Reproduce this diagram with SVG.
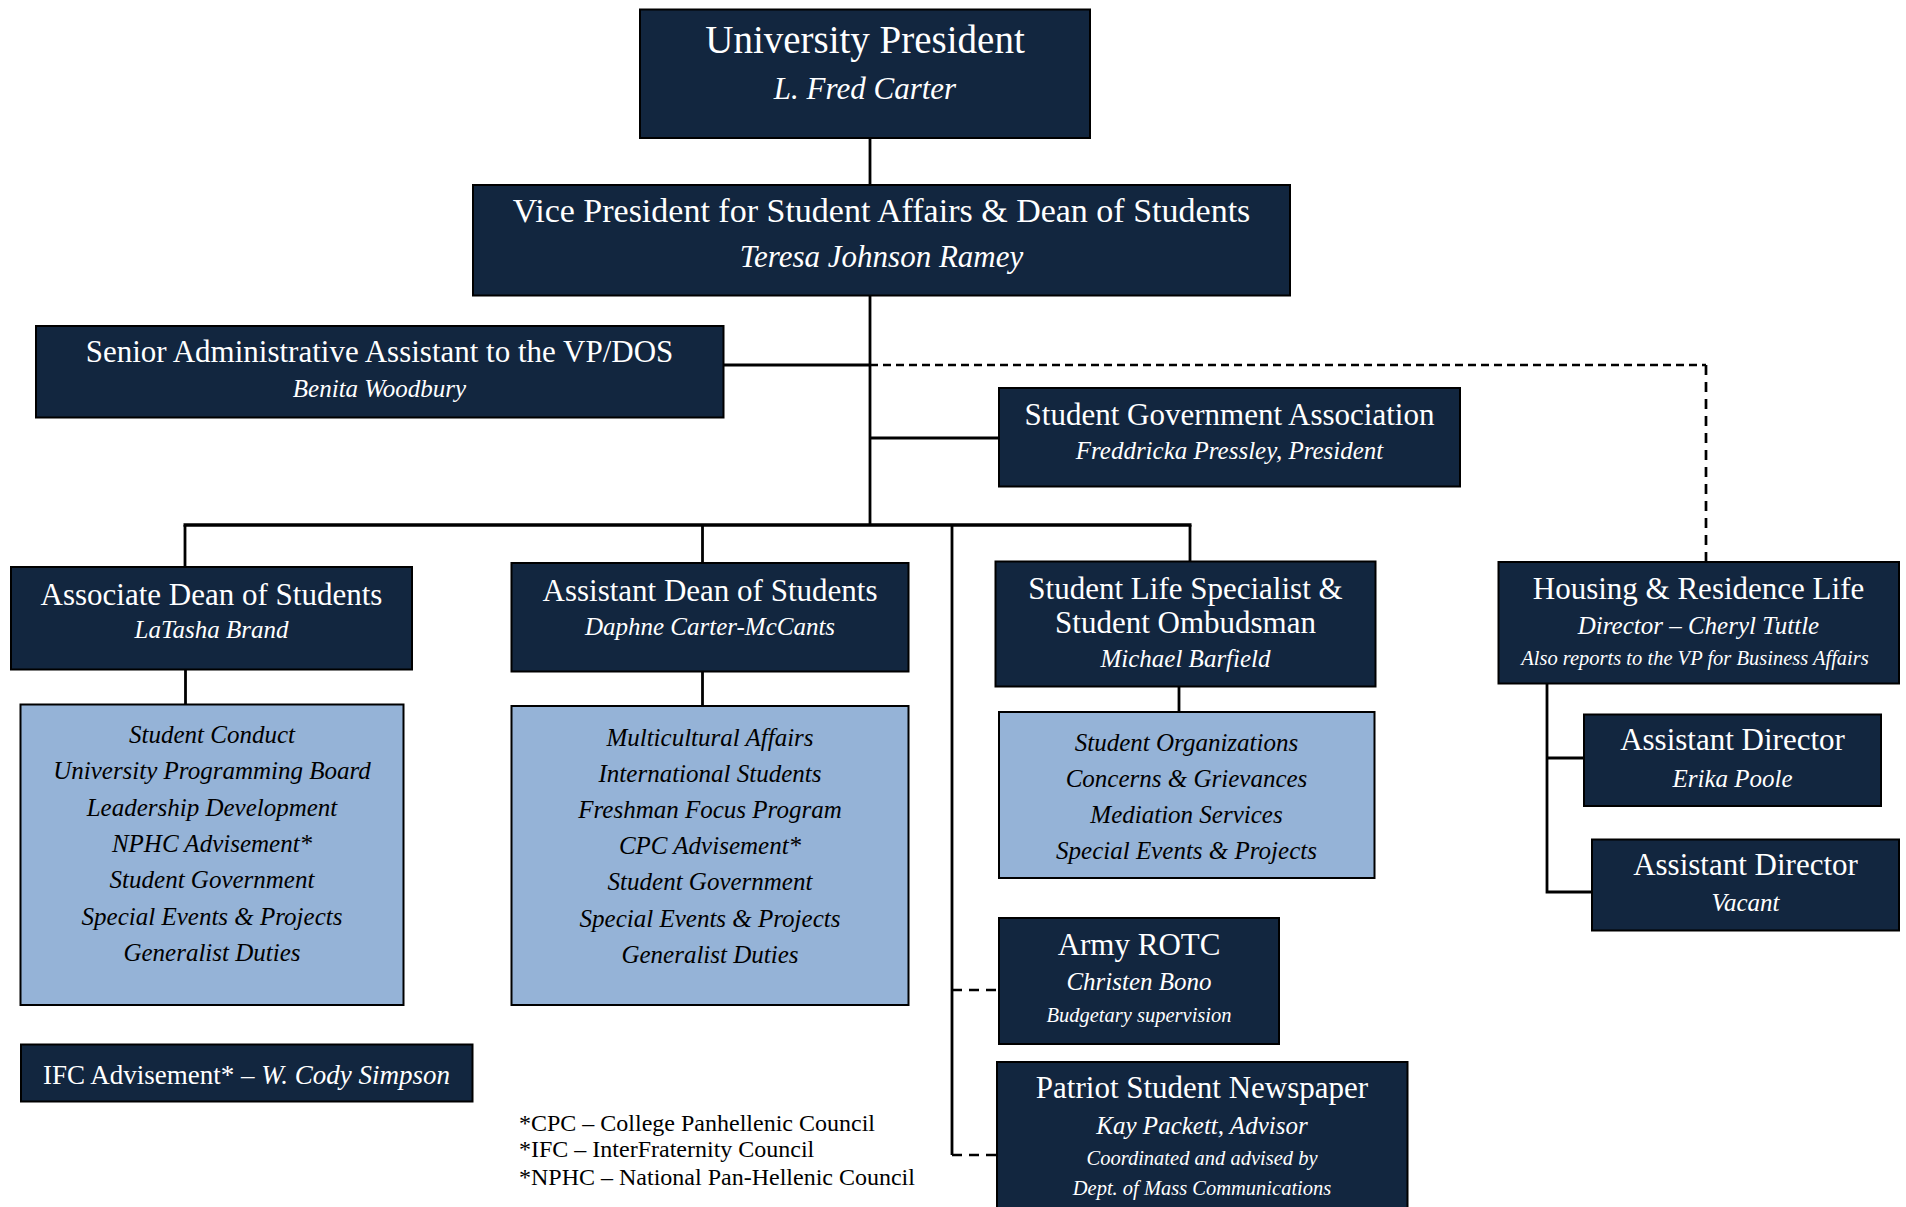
<svg xmlns="http://www.w3.org/2000/svg" width="1906" height="1207" viewBox="0 0 1906 1207">
<style>
.box{fill:#12263F;stroke:#000;stroke-width:2}
.blue{fill:#95B3D7;stroke:#000;stroke-width:2}
text{font-family:"Liberation Serif","Times New Roman",serif;text-anchor:middle}
.t{fill:#fff;font-size:31px}
.n{fill:#fff;font-size:25px;font-style:italic}
.s{fill:#fff;font-size:20.5px;font-style:italic}
.b{fill:#000;font-size:25px;font-style:italic}
.fn{fill:#000;font-size:24px;text-anchor:start}
.ln{stroke:#000;stroke-width:2.8;fill:none}
.dash{stroke:#000;stroke-width:2.7;fill:none;stroke-dasharray:8 5}
.dash2{stroke:#000;stroke-width:2.7;fill:none;stroke-dasharray:10 7}
</style>
<rect width="1906" height="1207" fill="#fff"/>
<g id="connectors">
<line class="ln" x1="870" y1="138" x2="870" y2="185"/>
<line class="ln" x1="870" y1="295" x2="870" y2="525"/>
<line class="ln" x1="723" y1="365" x2="870" y2="365"/>
<path class="dash" d="M870 365 H1706"/>
<path class="dash2" d="M1706 365 V562"/>
<line class="ln" x1="870" y1="438" x2="999" y2="438"/>
<line class="ln" style="stroke-width:3.3" x1="183.5" y1="525" x2="1191.5" y2="525"/>
<line class="ln" x1="185" y1="525" x2="185" y2="567"/>
<line class="ln" x1="702.5" y1="525" x2="702.5" y2="563"/>
<line class="ln" x1="1190" y1="525" x2="1190" y2="562"/>
<line class="ln" x1="952" y1="525" x2="952" y2="1155"/>
<path class="dash2" d="M952 990 H999"/>
<path class="dash2" d="M952 1155 H997"/>
<line class="ln" x1="185.5" y1="670" x2="185.5" y2="704"/>
<line class="ln" x1="702.5" y1="671" x2="702.5" y2="706"/>
<line class="ln" x1="1179" y1="687" x2="1179" y2="712"/>
<path class="ln" d="M1547 683 V892 H1592 M1547 758 H1584"/>
</g>
<g id="president">
<rect class="box" x="640" y="9.5" width="450" height="128.5"/>
<text class="t" x="865" y="52.5" style="font-size:39px">University President</text>
<text class="n" x="865" y="99" style="font-size:31px">L. Fred Carter</text>
</g>
<g id="vp">
<rect class="box" x="473" y="185" width="817" height="110.5"/>
<text class="t" x="881.5" y="221.5" style="font-size:34px">Vice President for Student Affairs &amp; Dean of Students</text>
<text class="n" x="881.5" y="266.5" style="font-size:31px">Teresa Johnson Ramey</text>
</g>
<g id="senior-admin">
<rect class="box" x="36" y="326" width="687.5" height="91.5"/>
<text class="t" x="379.5" y="361.5">Senior Administrative Assistant to the VP/DOS</text>
<text class="n" x="379.5" y="397">Benita Woodbury</text>
</g>
<g id="sga">
<rect class="box" x="999" y="388" width="461" height="98.5"/>
<text class="t" x="1229.5" y="425">Student Government Association</text>
<text class="n" x="1229.5" y="459">Freddricka Pressley, President</text>
</g>
<g id="associate-dean">
<rect class="box" x="11" y="567" width="401" height="102.5"/>
<text class="t" x="211.5" y="605">Associate Dean of Students</text>
<text class="n" x="211.5" y="638">LaTasha Brand</text>
</g>
<g id="associate-dean-duties">
<rect class="blue" x="20.5" y="704.5" width="383" height="300.5"/>
<text class="b" x="212" y="743">Student Conduct</text>
<text class="b" x="212" y="779">University Programming Board</text>
<text class="b" x="212" y="815.5">Leadership Development</text>
<text class="b" x="212" y="852">NPHC Advisement*</text>
<text class="b" x="212" y="888">Student Government</text>
<text class="b" x="212" y="924.5">Special Events &amp; Projects</text>
<text class="b" x="212" y="961">Generalist Duties</text>
</g>
<g id="assistant-dean">
<rect class="box" x="511.5" y="563" width="397" height="108.5"/>
<text class="t" x="710" y="601">Assistant Dean of Students</text>
<text class="n" x="710" y="635">Daphne Carter-McCants</text>
</g>
<g id="assistant-dean-duties">
<rect class="blue" x="511.5" y="706" width="397" height="299"/>
<text class="b" x="710" y="745.5">Multicultural Affairs</text>
<text class="b" x="710" y="781.5">International Students</text>
<text class="b" x="710" y="818">Freshman Focus Program</text>
<text class="b" x="710" y="854">CPC Advisement*</text>
<text class="b" x="710" y="890">Student Government</text>
<text class="b" x="710" y="926.5">Special Events &amp; Projects</text>
<text class="b" x="710" y="962.5">Generalist Duties</text>
</g>
<g id="student-life">
<rect class="box" x="995.5" y="561.5" width="380" height="125"/>
<text class="t" x="1185.5" y="599">Student Life Specialist &amp;</text>
<text class="t" x="1185.5" y="633">Student Ombudsman</text>
<text class="n" x="1185.5" y="667">Michael Barfield</text>
</g>
<g id="student-life-duties">
<rect class="blue" x="999" y="712" width="375.5" height="166"/>
<text class="b" x="1186.5" y="750.5">Student Organizations</text>
<text class="b" x="1186.5" y="786.5">Concerns &amp; Grievances</text>
<text class="b" x="1186.5" y="822.5">Mediation Services</text>
<text class="b" x="1186.5" y="859">Special Events &amp; Projects</text>
</g>
<g id="army-rotc">
<rect class="box" x="999" y="918" width="280" height="126"/>
<text class="t" x="1139" y="955">Army ROTC</text>
<text class="n" x="1139" y="990">Christen Bono</text>
<text class="s" x="1139" y="1021.5">Budgetary supervision</text>
</g>
<g id="patriot">
<rect class="box" x="997" y="1062" width="410.5" height="160"/>
<text class="t" x="1202" y="1098">Patriot Student Newspaper</text>
<text class="n" x="1202" y="1134">Kay Packett, Advisor</text>
<text class="s" x="1202" y="1165">Coordinated and advised by</text>
<text class="s" x="1202" y="1195">Dept. of Mass Communications</text>
</g>
<g id="housing">
<rect class="box" x="1498.5" y="562" width="400.5" height="121.5"/>
<text class="t" x="1698.5" y="599">Housing &amp; Residence Life</text>
<text class="n" x="1698.5" y="634">Director – Cheryl Tuttle</text>
<text class="s" x="1695" y="665">Also reports to the VP for Business Affairs</text>
</g>
<g id="assistant-director-1">
<rect class="box" x="1584" y="714.5" width="297" height="91.5"/>
<text class="t" x="1732.5" y="750">Assistant Director</text>
<text class="n" x="1732.5" y="786.5">Erika Poole</text>
</g>
<g id="assistant-director-2">
<rect class="box" x="1592" y="839.5" width="307" height="91"/>
<text class="t" x="1745.5" y="875">Assistant Director</text>
<text class="n" x="1745.5" y="910.5">Vacant</text>
</g>
<g id="ifc">
<rect class="box" x="21" y="1044.5" width="451.5" height="57"/>
<text class="t" x="246.5" y="1084" style="font-size:27px">IFC Advisement* – <tspan font-style="italic">W. Cody Simpson</tspan></text>
</g>
<g id="footnotes">
<text class="fn" x="519" y="1130.5">*CPC – College Panhellenic Council</text>
<text class="fn" x="519" y="1157">*IFC – InterFraternity Council</text>
<text class="fn" x="519" y="1184.5">*NPHC – National Pan-Hellenic Council</text>
</g>
</svg>
